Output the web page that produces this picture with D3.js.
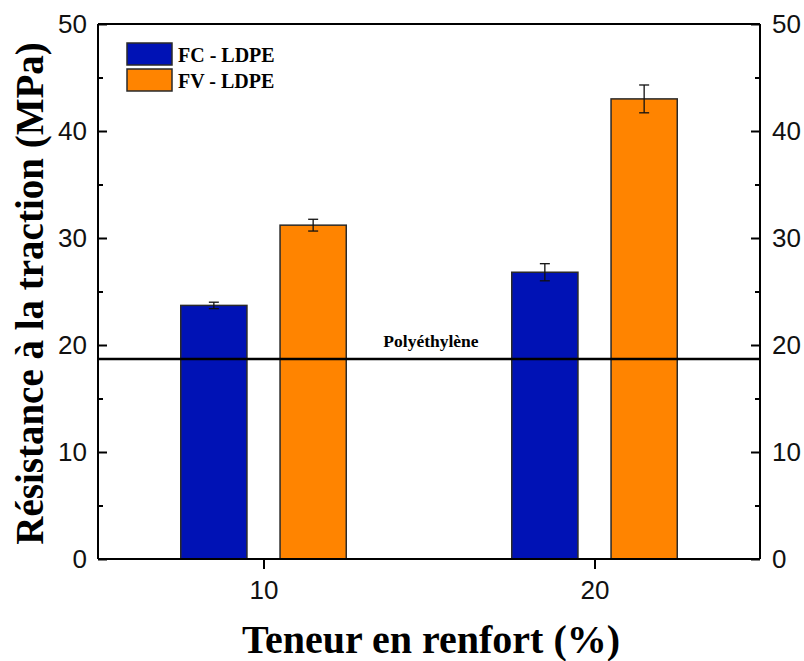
<!DOCTYPE html>
<html><head><meta charset="utf-8">
<script src="https://cdn.jsdelivr.net/npm/d3@7"></script>
<style>body{margin:0;background:#fff}</style>
</head><body>
<script>
const groups = [10, 20];
const seriesNames = ["FC - LDPE", "FV - LDPE"];
const seriesColors = ["#0012B5", "#FF8400"];
const fcValues = [23.7, 26.8];
const fcErrors = [0.3, 0.8];
const fvValues = [31.2, 43.0];
const fvErrors = [0.55, 1.3];
const yTicks = [0, 10, 20, 30, 40, 50];
const yMinorTicks = [5, 15, 25, 35, 45];
const xTicks = [10, 20];
const refValue = 18.7;
const refLabel = "Polyéthylène";

(function () {
const W = 804, H = 661;
const m = {left: 98, right: 44, top: 24, bottom: 102};
const svg = d3.select("body").append("svg").attr("width", W).attr("height", H);

const x = d3.scaleLinear().domain([5, 25]).range([m.left, W - m.right]);
const y = d3.scaleLinear().domain([0, 50]).range([H - m.bottom, m.top]);

const serif = "'Liberation Serif','Times New Roman',serif";
const sans = "'Liberation Sans',Arial,sans-serif";

const series = [
  {name: seriesNames[0], color: seriesColors[0], values: fcValues, errors: fcErrors, offset: -1.5},
  {name: seriesNames[1], color: seriesColors[1], values: fvValues, errors: fvErrors, offset: 1.5}
];
const barW = x(7) - x(5);

series.forEach(s => {
  const g = svg.append("g");
  g.selectAll("rect").data(groups).join("rect")
    .attr("x", (d) => x(d + s.offset) - barW / 2)
    .attr("y", (d, i) => y(s.values[i]))
    .attr("width", barW)
    .attr("height", (d, i) => y(0) - y(s.values[i]))
    .attr("fill", s.color).attr("stroke", "#2a2a2a").attr("stroke-width", 1.5);
  groups.forEach((d, i) => {
    const cx = x(d + s.offset);
    const y1 = y(s.values[i] + s.errors[i]), y2 = y(s.values[i] - s.errors[i]);
    g.append("line").attr("x1", cx).attr("x2", cx).attr("y1", y1).attr("y2", y2).attr("stroke", "#111").attr("stroke-width", 1.3);
    g.append("line").attr("x1", cx - 5).attr("x2", cx + 5).attr("y1", y1).attr("y2", y1).attr("stroke", "#111").attr("stroke-width", 1.3);
    g.append("line").attr("x1", cx - 5).attr("x2", cx + 5).attr("y1", y2).attr("y2", y2).attr("stroke", "#111").attr("stroke-width", 1.3);
  });
});

// reference line
svg.append("line").attr("x1", x(5)).attr("x2", x(25)).attr("y1", y(refValue)).attr("y2", y(refValue))
  .attr("stroke", "#000").attr("stroke-width", 2.5);
svg.append("text").attr("x", 431).attr("y", y(refValue) - 12).attr("text-anchor", "middle")
  .attr("font-family", serif).attr("font-weight", "bold").attr("font-size", 17.5).text(refLabel);

// axes
const axW = 2;
const leftAx = svg.append("g").attr("transform", `translate(${x(5)},0)`)
  .call(d3.axisLeft(y).tickValues(yTicks).tickSize(-9).tickPadding(11).tickFormat(d3.format("d")));
const leftMinor = svg.append("g").attr("transform", `translate(${x(5)},0)`)
  .call(d3.axisLeft(y).tickValues(yMinorTicks).tickSize(-5).tickFormat(""));
const rightAx = svg.append("g").attr("transform", `translate(${x(25)},0)`)
  .call(d3.axisRight(y).tickValues(yTicks).tickSize(-9).tickPadding(12).tickFormat(d3.format("d")));
const rightMinor = svg.append("g").attr("transform", `translate(${x(25)},0)`)
  .call(d3.axisRight(y).tickValues(yMinorTicks).tickSize(-5).tickFormat(""));
const bottomAx = svg.append("g").attr("transform", `translate(0,${y(0)})`)
  .call(d3.axisBottom(x).tickValues(xTicks).tickSize(10).tickPadding(12).tickFormat(d3.format("d")));
const topAx = svg.append("g").attr("transform", `translate(0,${y(50)})`)
  .call(d3.axisTop(x).tickValues([]).tickSize(0));

[leftAx, leftMinor, rightAx, rightMinor, bottomAx, topAx].forEach(a => {
  a.selectAll(".domain").attr("stroke", "#000").attr("stroke-width", axW);
  a.selectAll(".tick line").attr("stroke", "#000").attr("stroke-width", axW);
  a.selectAll(".tick text").attr("font-family", sans).attr("font-size", 26).attr("fill", "#111");
});
[leftAx, leftMinor, rightAx, rightMinor].forEach(a => a.select(".domain").attr("d", `M0,${y(0)}V${y(50)}`));
[bottomAx, topAx].forEach(a => a.select(".domain").attr("d", `M${x(5)},0H${x(25)}`));

// axis titles
svg.append("text").attr("transform", `translate(43,${(y(0) + y(50)) / 2 + 2}) rotate(-90)`)
  .attr("text-anchor", "middle").attr("font-family", serif).attr("font-weight", "bold").attr("font-size", 39)
  .text("Résistance à la traction (MPa)");
svg.append("text").attr("x", 431).attr("y", 653).attr("text-anchor", "middle")
  .attr("font-family", serif).attr("font-weight", "bold").attr("font-size", 40)
  .text("Teneur en renfort (%)");

// legend
const lg = svg.append("g");
series.forEach((s, i) => {
  lg.append("rect").attr("x", 127).attr("y", 43 + i * 26).attr("width", 45).attr("height", 22)
    .attr("fill", s.color).attr("stroke", "#2a2a2a").attr("stroke-width", 1.5);
  lg.append("text").attr("x", 178).attr("y", 62 + i * 26).attr("font-family", serif).attr("font-weight", "bold")
    .attr("font-size", 20).text(s.name);
});
})();
</script>
</body></html>
